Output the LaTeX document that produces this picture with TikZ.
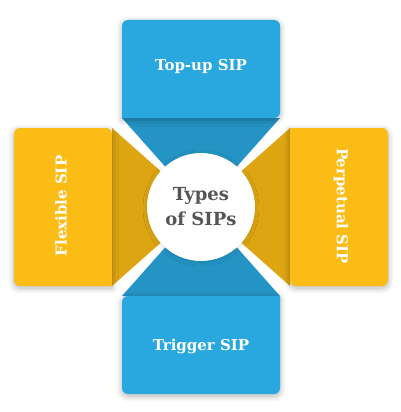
\documentclass[tikz,border=0pt]{standalone}
\usepackage{fontspec}
\setmainfont{DejaVu Serif}
\usetikzlibrary{shadows.blur}
\definecolor{sipblue}{RGB}{41,168,223}
\definecolor{sipyellow}{RGB}{251,188,21}
\definecolor{sipgray}{RGB}{85,85,85}
\tikzset{
  softshadow/.style={blur shadow={shadow xshift=0pt, shadow yshift=-2pt,
      shadow blur radius=6pt, shadow blur steps=10, shadow opacity=30}},
  label/.style={text=white, font=\bfseries\fontsize{15}{18}\selectfont, inner sep=0pt},
}
\begin{document}
\begin{tikzpicture}[x=1pt, y=-1pt, line join=round]
			\useasboundingbox (0,0) rectangle (400,412);
			\coordinate (c) at (201,207);
			% four arms, blue top and bottom, yellow left and right
			\foreach \ang/\col in {0/sipblue, 90/sipyellow, 180/sipblue, 270/sipyellow}{
				\begin{scope}[shift={(c)}, rotate=\ang]
					\fill[\col!88!black] (-79,-89) -- (79,-89) -- (0,0) -- cycle;
					\fill[\col, softshadow] (-79,-89) [rounded corners=6pt] -- (-79,-187) -- (79,-187) -- (79,-89) [sharp corners] -- cycle;
				\end{scope}
			}
			\node[circle, fill=white, minimum size=108pt, align=center,
				blur shadow={shadow xshift=0pt, shadow yshift=-1pt, shadow blur radius=4pt, shadow opacity=15},
				text=sipgray, font=\bfseries\fontsize{18}{25}\selectfont] (types) at (c) {Types\\of SIPs};
			\node[label] (topup) at (201,66) {Top-up SIP};
			\node[label] (trigger) at (201,346) {Trigger SIP};
			\node[label, rotate=90] (flexible) at (61,206) {Flexible SIP};
			\node[label, rotate=-90] (perpetual) at (341,206) {Perpetual SIP};
		\end{tikzpicture}
\end{document}
